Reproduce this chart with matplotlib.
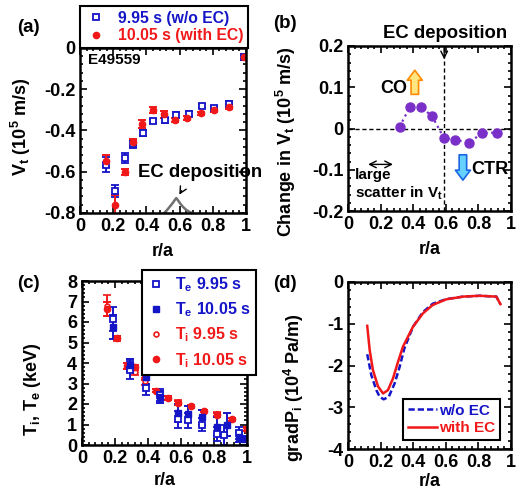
import matplotlib
matplotlib.use('Agg')
import matplotlib.pyplot as plt
from matplotlib.lines import Line2D
from matplotlib.ticker import AutoMinorLocator, FuncFormatter, MultipleLocator

plt.rcParams['font.family'] = ['Liberation Sans', 'DejaVu Sans']
plt.rcParams['font.weight'] = 'bold'
plt.rcParams['axes.labelweight'] = 'bold'
plt.rcParams['font.size'] = 12
plt.rcParams['axes.unicode_minus'] = False
plt.rcParams['mathtext.fontset'] = 'custom'
plt.rcParams['mathtext.rm'] = 'Liberation Sans:bold'
plt.rcParams['mathtext.it'] = 'Liberation Sans:bold'
plt.rcParams['mathtext.bf'] = 'Liberation Sans:bold'
plt.rcParams['mathtext.default'] = 'regular'

BLUE = '#1515c8'
RED = '#f01818'
PURPLE = '#7b2fc9'

# (a) toroidal rotation profiles
r_vt = [0.158, 0.209, 0.269, 0.319, 0.38, 0.44, 0.51, 0.58, 0.655, 0.735, 0.81, 0.90, 0.988]
vt_wo = [-0.565, -0.694, -0.532, -0.466, -0.412, -0.354, -0.351, -0.325, -0.319, -0.283, -0.29, -0.27, -0.042]
vt_wo_err = [0.035, 0.03, 0.025, 0.02, 0.015, 0.01, 0.012, 0.015, 0.012, 0.01, 0.01, 0.015, 0.01]
r_vt2 = [0.158, 0.209, 0.269, 0.319, 0.373, 0.44, 0.506, 0.574, 0.646, 0.727, 0.807, 0.896, 0.988]
vt_w = [-0.549, -0.759, -0.60, -0.458, -0.369, -0.301, -0.322, -0.348, -0.341, -0.317, -0.30, -0.285, -0.042]
vt_w_err = [0.03, 0.045, 0.015, 0.015, 0.018, 0.015, 0.015, 0.01, 0.01, 0.008, 0.01, 0.012, 0.015]
r_ec = [0.50, 0.52, 0.54, 0.56, 0.57, 0.58, 0.59, 0.60, 0.62, 0.64, 0.66, 0.68, 0.70]
ec_prof = [-0.805, -0.79, -0.77, -0.75, -0.738, -0.728, -0.738, -0.75, -0.77, -0.785, -0.795, -0.802, -0.81]

# (b) change in Vt
r_dv = [0.316, 0.38, 0.447, 0.516, 0.588, 0.659, 0.741, 0.822, 0.914]
dvt = [0.004, 0.052, 0.052, 0.03, -0.023, -0.027, -0.035, -0.011, -0.01]

# (c) temperatures
r_te = [0.19, 0.29, 0.39, 0.47, 0.58, 0.64, 0.73, 0.82, 0.86, 0.95, 0.98]
te_995 = [6.15, 3.65, 2.8, 2.45, 1.25, 1.2, 1.0, 0.55, 0.5, 0.6, 0.3]
te_995_err = [0.6, 0.45, 0.35, 0.3, 0.4, 0.35, 0.3, 0.35, 0.5, 0.3, 0.15]
r_te2 = [0.19, 0.29, 0.39, 0.47, 0.58, 0.64, 0.73, 0.82, 0.88, 0.95, 0.98]
te_1005 = [5.75, 3.9, 3.3, 2.35, 1.55, 1.5, 1.35, 0.9, 1.0, 0.4, 0.28]
te_1005_err = [0.6, 0.3, 0.3, 0.3, 0.45, 0.4, 0.35, 0.45, 0.55, 0.25, 0.12]
r_ti = [0.15, 0.21, 0.27, 0.32, 0.38, 0.45, 0.52, 0.58, 0.66, 0.74, 0.82, 0.91, 1.0]
ti_995 = [6.8, 5.2, 3.85, 3.55, 3.1, 2.65, 2.3, 2.1, 1.88, 1.65, 1.5, 1.25, 0.75]
ti_995_err = [0.5, 0.12, 0.15, 0.12, 0.15, 0.08, 0.1, 0.1, 0.06, 0.06, 0.1, 0.08, 0.08]
ti_1005 = [6.65, 5.2, 3.85, 3.8, 3.3, 2.65, 2.3, 2.05, 1.88, 1.67, 1.45, 1.25, 0.78]
ti_1005_err = [0.35, 0.1, 0.15, 0.12, 0.12, 0.08, 0.1, 0.08, 0.06, 0.06, 0.1, 0.08, 0.08]

# (d) ion pressure gradient
r_gp_w = [0.118, 0.133, 0.153, 0.184, 0.215, 0.245, 0.276, 0.307, 0.337, 0.399, 0.46, 0.52, 0.603, 0.706, 0.808, 0.91, 0.935]
gp_w = [-1.05, -1.63, -2.11, -2.5, -2.67, -2.59, -2.31, -1.91, -1.55, -1.07, -0.75, -0.55, -0.415, -0.35, -0.33, -0.35, -0.53]
r_gp_wo = [0.118, 0.143, 0.174, 0.194, 0.219, 0.25, 0.286, 0.317, 0.345, 0.399, 0.46, 0.52, 0.603, 0.706, 0.808, 0.91, 0.935]
gp_wo = [-1.73, -2.23, -2.59, -2.75, -2.81, -2.75, -2.43, -2.03, -1.6, -1.07, -0.72, -0.52, -0.41, -0.35, -0.33, -0.35, -0.53]

W, H = 526, 492
fig = plt.figure(figsize=(W / 100, H / 100), dpi=100)


def px_axes(l, t, r, b):
    return fig.add_axes([l / W, 1 - b / H, (r - l) / W, (b - t) / H])


def style(ax, yfmt):
    ax.set_xlim(0, 1)
    ax.xaxis.set_major_locator(MultipleLocator(0.2))
    ax.xaxis.set_minor_locator(AutoMinorLocator(5))
    ax.yaxis.set_minor_locator(AutoMinorLocator(5))
    ax.xaxis.set_major_formatter(FuncFormatter(lambda v, p: '%g' % round(v, 3)))
    ax.yaxis.set_major_formatter(FuncFormatter(yfmt))
    ax.tick_params(which='both', direction='in', top=True, right=True, width=1.2, labelsize=13)
    ax.tick_params(which='major', length=5)
    ax.tick_params(which='minor', length=2.5)
    for s in ax.spines.values():
        s.set_linewidth(1.8)
    ax.set_xlabel('r/a', fontsize=13)


eb = dict(capsize=3, elinewidth=1.4, capthick=1.4, linestyle='none')

# ---------- (a)
axa = px_axes(80, 48, 246, 213)
axa.errorbar(r_vt, vt_wo, yerr=vt_wo_err, marker='s', ms=5, mfc='white', mec=BLUE, mew=1.3, color=BLUE, **eb)
axa.errorbar(r_vt2, vt_w, yerr=vt_w_err, marker='o', ms=4.5, color=RED, **eb)
axa.plot(r_ec, ec_prof, color='#707070', lw=1.8)
axa.set_ylim(-0.8, 0)
axa.yaxis.set_major_locator(MultipleLocator(0.2))
style(axa, lambda v, p: '%g' % round(v, 3))
axa.set_ylabel('V$_t$ (10$^5$ m/s)', fontsize=13)
axa.yaxis.set_label_coords(-0.285, 0.52)
axa.xaxis.set_label_coords(0.5, -0.18)
axa.text(0.048, 0.925, 'E49559', transform=axa.transAxes, fontsize=11, va='center')
axa.annotate('', xy=(0.59, -0.723), xytext=(0.62, -0.68),
             arrowprops=dict(arrowstyle='->', color='black', lw=1))
axa.text(0.723, -0.602, 'EC deposition', ha='center', va='center', fontsize=13.3, clip_on=False)
ha = [Line2D([], [], marker='s', ms=5, mfc='white', mec=BLUE, mew=1.3, ls='none'),
      Line2D([], [], marker='o', ms=4.5, color=RED, ls='none')]
lga = axa.legend(ha, ['9.95 s (w/o EC)', '10.05 s (with EC)'], loc='upper left',
                 bbox_to_anchor=(80 / W, 1 - 6 / H), bbox_transform=fig.transFigure,
                 borderaxespad=0, fancybox=False, framealpha=1, edgecolor='black',
                 fontsize=11.3, handlelength=1.5, handletextpad=0.6, borderpad=0.3,
                 labelspacing=0.15, labelcolor=[BLUE, RED])
lga.get_frame().set_linewidth(1.5)
fig.text(28 / W, 1 - 27 / H, '(a)', fontsize=13.5, ha='center', va='center')

# ---------- (b)
axb = px_axes(348, 46, 511, 211)
axb.axhline(0, color='black', ls=(0, (3, 2)), lw=1)
axb.axvline(0.59, color='black', ls=(0, (3, 2)), lw=1)
axb.plot(r_dv, dvt, marker='o', ms=6.5, color=PURPLE, ls=':', lw=1.6)
axb.set_ylim(-0.2, 0.2)
axb.yaxis.set_major_locator(MultipleLocator(0.1))
style(axb, lambda v, p: '%g' % round(v, 3))
axb.set_ylabel('Change in V$_t$ (10$^5$ m/s)', fontsize=13)
axb.yaxis.set_label_coords(-0.305, 0.42)
axb.xaxis.set_label_coords(0.5, -0.18)
axb.text(0.593, 0.231, 'EC deposition', ha='center', va='center', fontsize=13.3, clip_on=False)
axb.annotate('', xy=(0.59, 0.161), xytext=(0.59, 0.203),
             arrowprops=dict(arrowstyle='->', color='black', lw=1), annotation_clip=False)
axb.annotate('', xy=(0.41, 0.148), xytext=(0.41, 0.076),
             arrowprops=dict(arrowstyle='simple,head_width=0.9,head_length=0.6,tail_width=0.45',
                             fc='#ffe680', ec='#ff8a00', lw=1.2))
axb.text(0.282, 0.098, 'CO', ha='center', va='center', fontsize=13)
axb.annotate('', xy=(0.705, -0.132), xytext=(0.705, -0.057),
             arrowprops=dict(arrowstyle='simple,head_width=0.9,head_length=0.6,tail_width=0.45',
                             fc='#66d0ff', ec='#1a66e0', lw=1.2))
axb.text(0.87, -0.099, 'CTR', ha='center', va='center', fontsize=13)
axb.annotate('', xy=(0.123, -0.087), xytext=(0.276, -0.087),
             arrowprops=dict(arrowstyle='<->', color='black', lw=1, shrinkA=0, shrinkB=0))
axb.text(0.045, -0.113, 'large', ha='left', va='center', fontsize=11)
axb.text(0.045, -0.157, 'scatter in V$_t$', ha='left', va='center', fontsize=11)
fig.text(285 / W, 1 - 23 / H, '(b)', fontsize=13.5, ha='center', va='center')

# ---------- (c)
axc = px_axes(82, 281, 247, 445)
axc.errorbar(r_ti, ti_995, yerr=ti_995_err, marker='o', ms=3.5, mfc='white', mec=RED, mew=1.2, color=RED, **eb)
axc.errorbar(r_ti, ti_1005, yerr=ti_1005_err, marker='o', ms=4.5, color=RED, **eb)
axc.errorbar(r_te, te_995, yerr=te_995_err, marker='s', ms=5, mfc='white', mec=BLUE, mew=1.3, color=BLUE, **eb)
axc.errorbar(r_te2, te_1005, yerr=te_1005_err, marker='s', ms=5, color=BLUE, **eb)
axc.set_ylim(0, 8)
axc.yaxis.set_major_locator(MultipleLocator(1))
style(axc, lambda v, p: '%g' % v)
axc.set_ylabel('T$_i$, T$_e$ (keV)', fontsize=13)
axc.yaxis.set_label_coords(-0.236, 0.34)
axc.xaxis.set_label_coords(0.5, -0.165)
hc = [Line2D([], [], marker='s', ms=5, mfc='white', mec=BLUE, mew=1.3, ls='none'),
      Line2D([], [], marker='s', ms=5, color=BLUE, ls='none'),
      Line2D([], [], marker='o', ms=3.5, mfc='white', mec=RED, mew=1.2, ls='none'),
      Line2D([], [], marker='o', ms=4.5, color=RED, ls='none')]
lgc = axc.legend(hc, ['T$_e$ 9.95 s', 'T$_e$ 10.05 s', 'T$_i$ 9.95 s', 'T$_i$ 10.05 s'],
                 loc='upper left', bbox_to_anchor=(142 / W, 1 - 270 / H), bbox_transform=fig.transFigure,
                 borderaxespad=0, fancybox=False, framealpha=1, edgecolor='black',
                 fontsize=11.5, handlelength=1.0, handletextpad=0.7, borderpad=0.35,
                 labelspacing=0.4, labelcolor=[BLUE, BLUE, RED, RED])
lgc.get_frame().set_linewidth(1.5)
fig.text(28 / W, 1 - 283 / H, '(c)', fontsize=13.5, ha='center', va='center')

# ---------- (d)
axd = px_axes(348, 282, 511, 449)
axd.plot(r_gp_wo, gp_wo, color=BLUE, ls=(0, (2.5, 1.2)), lw=1.8, label='w/o EC')
axd.plot(r_gp_w, gp_w, color=RED, lw=1.8, label='with EC')
axd.set_ylim(-4, 0)
axd.yaxis.set_major_locator(MultipleLocator(1))
style(axd, lambda v, p: '%g' % v)
axd.set_ylabel('gradP$_i$ (10$^4$ Pa/m)', fontsize=13)
axd.yaxis.set_label_coords(-0.258, 0.37)
axd.xaxis.set_label_coords(0.5, -0.145)
lgd = axd.legend(loc='lower right', bbox_to_anchor=(500 / W, 1 - 440 / H), bbox_transform=fig.transFigure,
                 borderaxespad=0, fancybox=False, framealpha=1, edgecolor='black',
                 fontsize=11, handlelength=1.9, handletextpad=0.15, borderpad=0.3,
                 labelspacing=0.25, labelcolor=[BLUE, RED])
lgd.get_frame().set_linewidth(1.5)
fig.text(285 / W, 1 - 283 / H, '(d)', fontsize=13.5, ha='center', va='center')

fig.savefig('out.png', dpi=100)
